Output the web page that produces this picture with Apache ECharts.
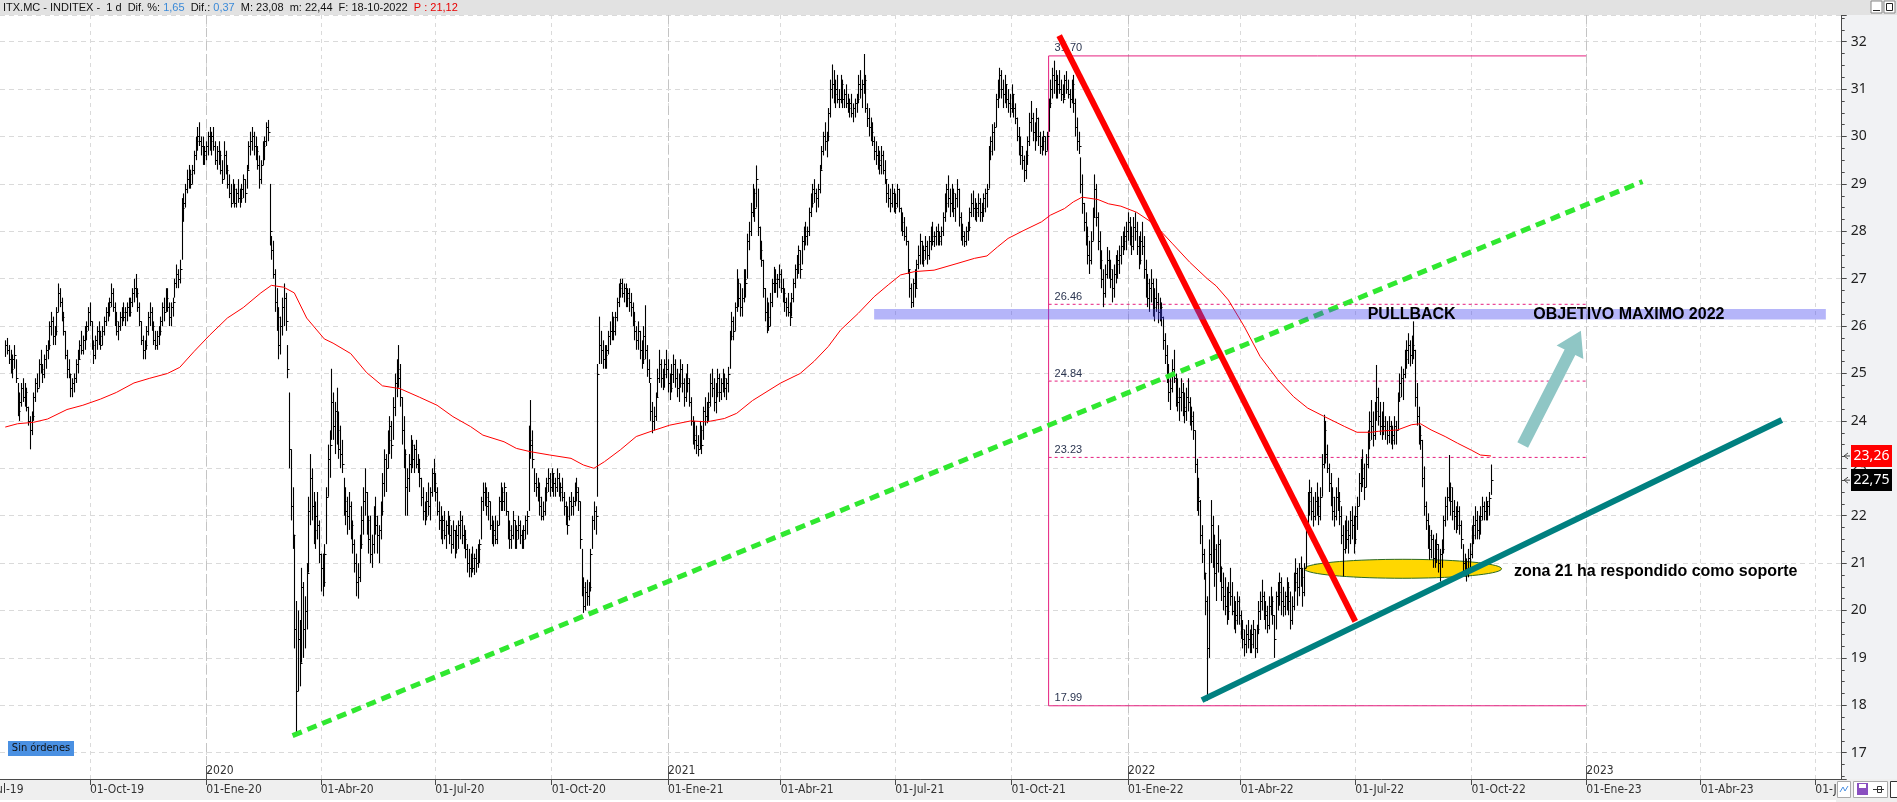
<!DOCTYPE html>
<html><head><meta charset="utf-8">
<script src="https://cdn.jsdelivr.net/npm/echarts@6/dist/echarts.min.js"></script>
<style>html,body{margin:0;padding:0;background:#fff;overflow:hidden}#c{width:1897px;height:802px}</style>
</head><body><div id="c"></div>
<script>
// ---------------- DATA ----------------
const monthNames = ['Ene','Feb','Mar','Abr','May','Jun','Jul','Ago','Sep','Oct','Nov','Dic'];
const axisStart = '2019-07-01';
const axisEnd = '2023-07-24';
const refDate = '2019-07-22';      // first visible weekday; day 0 for the [day, value] samples below
const priceStart = '2019-07-25';   // first bar of hlc
const yTickValues = [17,18,19,20,21,22,23,24,25,26,27,28,29,30,31,32];
// daily bars [high, low, close], one per weekday from priceStart
const hlc = [
[25.7,25.35,25.6],[25.75,25.4,25.5],
[25.6,25.2,25.3],[25.5,25.0,25.1],[25.4,24.9,25.3],[25.6,25.1,25.4],[25.3,24.8,24.9],
[24.8,24.1,24.2],[24.6,24.0,24.4],[24.8,24.3,24.7],[24.9,24.4,24.5],[24.8,24.3,24.6],
[24.7,24.2,24.3],[24.3,23.9,24.0],[24.1,23.4,23.8],[24.2,23.7,24.1],[24.6,24.0,24.5],
[24.9,24.4,24.8],[25.0,24.6,24.7],[25.3,24.7,25.2],[25.5,25.0,25.1],[25.2,24.8,25.0],
[25.4,24.9,25.3],[25.6,25.1,25.5],[25.7,25.3,25.6],[26.1,25.5,26.0],[26.3,25.8,26.1],
[26.2,25.6,25.8],[26.0,25.6,25.9],[26.4,25.8,26.3],[26.9,26.3,26.7],[26.8,26.4,26.5],
[26.6,26.1,26.2],[26.3,25.8,25.9],[25.9,25.3,25.4],[25.5,24.9,25.1],[25.3,24.9,25.0],
[25.0,24.5,24.7],[24.9,24.5,24.8],[25.0,24.6,24.9],[25.3,24.8,25.2],[25.5,25.0,25.3],
[25.7,25.3,25.6],[25.9,25.4,25.5],[25.8,25.4,25.7],[26.0,25.5,25.9],[26.1,25.7,26.0],
[26.4,25.9,26.3],[26.5,26.0,26.1],[26.1,25.5,25.6],[25.7,25.2,25.4],[25.8,25.3,25.7],
[26.0,25.5,25.9],[26.1,25.6,25.8],[25.9,25.5,25.6],[26.0,25.6,25.9],[26.2,25.8,26.1],
[26.4,26.0,26.3],[26.5,26.1,26.4],[26.6,26.2,26.5],[26.9,26.4,26.7],[26.8,26.3,26.4],
[26.5,26.0,26.1],[26.3,25.8,25.9],[26.1,25.7,26.0],[26.3,25.9,26.2],[26.4,26.0,26.3],
[26.5,26.1,26.2],[26.4,26.0,26.3],[26.5,26.1,26.4],[26.6,26.2,26.3],[26.6,26.2,26.5],
[26.8,26.4,26.7],[27.0,26.5,26.8],[27.1,26.6,26.7],[26.8,26.3,26.4],[26.5,26.0,26.1],
[26.1,25.6,25.7],[25.8,25.3,25.5],[25.7,25.3,25.6],[26.0,25.5,25.9],[26.3,25.8,26.2],
[26.5,26.0,26.3],[26.4,25.9,26.0],[26.1,25.6,25.7],[25.9,25.5,25.6],[25.9,25.5,25.8],
[26.0,25.6,25.9],[26.2,25.8,26.1],[26.5,26.0,26.4],[26.6,26.1,26.3],[26.8,26.3,26.6],
[26.8,26.3,26.4],[26.5,26.0,26.2],[26.5,26.0,26.4],[26.6,26.2,26.5],[27.0,26.6,26.9],
[27.3,26.8,27.1],[27.2,26.8,27.0],[27.4,26.9,27.2],[28.7,27.4,28.5],[28.8,28.2,28.6],
[29.0,28.5,28.9],[29.3,28.8,29.1],[29.4,28.9,29.2],[29.3,28.9,29.0],[29.4,29.0,29.3],
[29.7,29.2,29.6],[30.0,29.5,29.9],[30.2,29.7,30.0],[30.3,29.8,29.9],[30.0,29.6,29.8],
[30.0,29.4,29.6],[29.8,29.4,29.7],[29.9,29.5,29.8],[30.1,29.6,30.0],[30.2,29.7,29.9],
[30.1,29.6,30.0],[30.2,29.7,29.8],[29.9,29.4,29.5],[29.8,29.3,29.7],[29.9,29.4,29.6],
[29.7,29.2,29.3],[29.5,29.0,29.1],[29.9,29.1,29.6],[29.7,29.2,29.3],[29.4,28.9,29.0],
[29.2,28.7,28.8],[29.0,28.5,28.6],[29.1,28.6,28.9],[29.0,28.5,28.6],[28.9,28.5,28.8],
[29.1,28.6,28.7],[28.9,28.5,28.7],[29.0,28.6,28.9],[29.2,28.7,29.1],[29.1,28.6,28.8],
[29.4,28.9,29.3],[29.9,29.3,29.8],[30.1,29.6,29.9],[30.2,29.7,30.0],[30.1,29.6,29.8],
[30.0,29.5,29.7],[29.8,29.3,29.4],[29.6,28.9,29.1],[29.5,29.0,29.4],[29.9,29.4,29.8],
[30.0,29.5,29.9],[30.3,29.8,30.2],[30.35,29.9,30.1],[29.0,27.7,28.0],[27.9,27.4,27.6],
[27.8,27.0,27.1],[27.2,26.3,26.5],[26.8,25.9,26.2],[26.4,25.3,25.6],[26.2,25.4,26.0],
[26.6,25.8,26.4],[26.9,26.0,26.6],[26.7,25.9,26.1],[25.6,24.9,25.1],[24.6,23.0,23.4],
[23.4,21.9,22.2],[22.6,21.3,21.6],[21.6,19.2,19.6],[20.2,17.4,18.3],[20.0,18.3,19.4],
[19.8,18.4,18.9],[20.9,18.9,20.5],[20.6,19.0,19.6],[20.3,19.2,20.0],[21.0,19.6,20.8],
[22.4,20.8,22.1],[23.3,21.8,22.8],[23.0,21.9,22.2],[22.5,21.4,21.7],[22.3,21.3,22.0],
[22.5,21.5,21.8],[21.9,21.0,21.2],[21.2,20.4,20.9],[21.2,20.3,20.6],[21.4,20.5,21.2],
[22.6,21.4,22.4],[23.5,22.4,23.2],[23.8,22.8,23.5],[25.1,23.6,24.4],[24.6,23.6,23.9],
[24.4,23.3,24.2],[24.7,23.5,23.8],[24.2,23.2,23.4],[23.9,23.0,23.3],[23.6,22.9,23.1],
[22.8,22.0,22.3],[22.6,21.8,22.1],[22.4,21.6,22.0],[22.5,21.7,22.2],[22.3,21.5,21.8],
[21.9,21.2,21.4],[21.5,20.8,21.0],[21.2,20.3,20.6],[21.0,20.25,20.7],[21.6,20.6,21.4],
[22.2,21.3,21.9],[22.6,21.6,22.3],[23.0,22.0,22.5],[22.5,21.6,21.9],[22.0,21.2,21.5],
[22.0,21.0,21.2],[21.6,20.9,21.4],[22.2,21.2,22.0],[22.4,21.6,21.8],[22.0,21.2,21.6],
[21.8,21.0,21.7],[22.3,21.5,22.1],[22.9,22.0,22.7],[23.4,22.4,23.2],[23.3,22.5,23.0],
[23.8,23.0,23.6],[24.1,23.3,23.9],[24.0,23.2,23.5],[24.5,23.6,24.3],[25.0,24.1,24.8],
[25.3,24.5,25.1],[25.6,24.7,24.9],[25.2,24.3,24.5],[24.5,23.5,23.8],[24.1,23.0,23.3],
[23.4,22.0,22.6],[23.0,22.0,22.8],[23.3,22.5,23.1],[23.7,22.9,23.5],[23.6,23.0,23.2],
[23.5,22.9,23.4],[23.6,23.0,23.1],[23.3,22.9,23.0],[23.2,22.6,22.8],[22.8,22.2,22.4],
[22.6,21.9,22.1],[22.3,21.8,22.0],[22.5,21.9,22.3],[22.7,22.0,22.2],[22.6,21.9,22.5],
[23.0,22.4,22.9],[23.2,22.5,22.7],[22.9,22.3,22.5],[22.6,22.0,22.1],[22.3,21.7,21.9],
[22.2,21.5,21.7],[22.0,21.4,21.9],[22.1,21.5,21.6],[21.9,21.3,21.8],[22.1,21.6,21.9],
[22.0,21.4,21.6],[21.8,21.2,21.4],[21.9,21.3,21.7],[21.7,21.1,21.3],[21.8,21.2,21.6],
[21.9,21.3,21.8],[22.1,21.5,21.9],[22.0,21.4,21.6],[21.8,21.3,21.5],[21.7,21.1,21.3],
[21.4,20.8,21.0],[21.3,20.7,20.9],[21.2,20.7,21.1],[21.35,20.8,20.9],[21.2,20.75,21.1],
[21.3,20.8,21.0],[21.4,20.9,21.3],[21.5,21.0,21.4],[22.4,21.5,22.3],[22.7,22.1,22.5],
[22.7,22.2,22.4],[22.6,22.0,22.2],[22.5,21.9,22.3],[22.3,21.7,21.8],[22.0,21.4,21.6],
[21.9,21.35,21.7],[22.0,21.4,21.5],[21.9,21.4,21.8],[22.4,21.8,22.3],[22.7,22.1,22.5],
[22.6,22.1,22.3],[22.7,22.1,22.6],[22.5,22.0,22.1],[22.1,21.5,21.7],[21.9,21.3,21.5],
[21.8,21.3,21.6],[22.1,21.5,21.9],[21.9,21.3,21.5],[21.8,21.3,21.7],[22.0,21.5,21.8],
[21.9,21.4,21.6],[21.7,21.3,21.5],[21.8,21.3,21.7],[22.0,21.5,21.9],[22.1,21.6,22.0],
[23.9,22.1,23.6],[24.44,23.2,23.5],[23.8,23.0,23.2],[23.0,22.5,22.7],[22.9,22.4,22.6],
[22.8,22.3,22.4],[22.7,22.0,22.2],[22.4,21.9,22.0],[22.3,21.9,22.1],[22.6,22.0,22.5],
[22.8,22.3,22.7],[23.0,22.5,22.8],[22.9,22.4,22.6],[23.0,22.5,22.9],[22.9,22.4,22.7],
[22.8,22.4,22.6],[23.0,22.5,22.8],[22.9,22.4,22.5],[22.7,22.3,22.6],[22.8,22.3,22.4],
[22.5,22.0,22.2],[22.3,21.8,22.0],[22.2,21.6,21.8],[22.4,21.9,22.3],[22.5,22.0,22.2],
[22.4,22.0,22.3],[22.7,22.2,22.6],[22.8,22.3,22.5],[22.6,22.1,22.3],[22.3,21.3,21.5],
[21.3,20.3,20.5],[20.7,19.95,20.1],[20.6,20.0,20.4],[20.65,20.1,20.3],[20.6,20.1,20.5],
[21.3,20.4,21.2],[22.0,21.3,21.9],[22.3,21.7,22.1],[22.2,21.6,22.0],[25.2,22.4,25.0],
[26.2,25.2,25.6],[25.9,25.2,25.5],[25.7,25.1,25.3],[25.6,25.1,25.4],[25.6,25.1,25.5],
[25.9,25.4,25.8],[26.1,25.6,25.9],[26.3,25.7,26.2],[26.2,25.7,25.9],[26.3,25.8,26.2],
[26.6,26.1,26.5],[26.9,26.4,26.8],[27.0,26.6,26.9],[27.0,26.6,26.7],[26.9,26.5,26.8],
[26.9,26.4,26.6],[26.8,26.4,26.7],[26.8,26.3,26.5],[26.7,26.2,26.4],[26.5,26.0,26.1],
[26.3,25.7,25.9],[26.0,25.5,25.7],[26.1,25.5,25.9],[25.9,25.3,25.5],[25.7,25.1,25.3],
[26.0,25.2,25.8],[26.44,25.3,25.5],[25.6,24.93,25.1],[25.3,24.8,24.9],[24.8,24.0,24.2],
[24.4,23.74,24.0],[24.3,23.8,24.1],[24.6,24.0,24.5],[25.1,24.5,24.9],[25.5,24.8,25.2],
[25.3,24.7,24.9],[25.1,24.65,25.0],[25.3,24.7,25.2],[25.5,24.9,25.1],[25.3,24.6,24.8],
[25.0,24.44,24.7],[25.2,24.6,25.0],[25.4,24.8,25.2],[25.3,24.7,24.9],[25.1,24.5,24.7],
[25.0,24.4,24.8],[25.3,24.7,25.1],[25.2,24.6,24.8],[24.9,24.3,24.5],[25.0,24.4,24.9],
[25.2,24.6,24.8],[24.9,24.3,24.4],[24.5,23.9,24.0],[24.1,23.5,23.7],[24.0,23.4,23.6],
[23.9,23.3,23.5],[23.7,23.25,23.4],[24.0,23.4,23.8],[23.9,23.3,23.5],[24.3,23.6,24.2],
[24.5,23.9,24.1],[24.4,23.95,24.3],[24.6,24.0,24.4],[25.0,24.3,24.8],[25.1,24.5,24.7],
[24.9,24.2,24.4],[24.8,24.16,24.6],[25.1,24.5,24.9],[25.0,24.4,24.6],[24.9,24.44,24.8],
[25.1,24.6,24.9],[25.0,24.5,24.7],[24.9,24.44,24.8],[25.14,24.6,25.0],[25.9,25.1,25.8],
[26.3,25.7,26.1],[26.2,25.7,25.9],[26.5,25.9,26.4],[27.2,26.3,26.9],[27.0,26.4,26.6],
[26.9,26.2,26.4],[26.8,26.2,26.6],[27.2,26.5,27.0],[27.2,26.6,26.9],[27.95,27.0,27.8],
[28.2,27.6,28.0],[28.6,27.9,28.4],[29.0,28.3,28.8],[28.9,28.2,28.5],[29.39,28.5,29.1],
[28.9,27.9,28.1],[28.1,27.4,27.6],[27.8,27.25,27.4],[27.4,26.6,26.8],[26.8,26.1,26.3],
[26.6,25.85,26.2],[26.5,25.9,26.0],[26.7,26.0,26.5],[27.0,26.4,26.9],[27.25,26.7,27.0],
[27.2,26.7,26.9],[27.1,26.6,27.0],[27.3,26.8,27.1],[27.2,26.7,26.8],[27.0,26.5,26.7],
[26.8,26.3,26.5],[26.6,26.2,26.4],[26.7,26.2,26.3],[26.5,26.0,26.2],[26.7,26.2,26.6],
[27.0,26.5,26.9],[27.3,26.8,27.2],[27.5,27.0,27.3],[27.7,27.1,27.6],[27.6,27.0,27.2],
[27.9,27.3,27.8],[28.1,27.6,28.0],[28.2,27.7,27.9],[28.1,27.7,28.0],[28.5,27.9,28.4],
[28.8,28.3,28.6],[29.0,28.5,28.9],[29.1,28.6,28.8],[28.9,28.4,28.7],[29.0,28.5,28.9],
[29.4,28.8,29.3],[29.8,29.3,29.7],[30.1,29.6,30.0],[30.3,29.7,29.9],[30.1,29.56,30.0],
[30.6,29.9,30.5],[31.2,30.4,31.0],[31.52,30.8,31.1],[31.4,30.7,30.9],[31.2,30.6,31.0],
[31.3,30.7,30.8],[31.0,30.6,30.8],[31.3,30.7,31.1],[31.2,30.6,30.8],[31.0,30.6,30.9],
[31.1,30.6,30.7],[30.9,30.5,30.6],[30.8,30.4,30.7],[30.9,30.4,30.5],[30.7,30.3,30.6],
[30.8,30.4,30.7],[30.9,30.5,30.8],[31.3,30.7,31.1],[31.4,30.8,31.0],[31.2,30.6,31.1],
[31.74,30.9,31.2],[31.3,30.5,30.6],[30.7,30.2,30.4],[30.6,30.0,30.2],[30.4,29.9,30.1],
[30.3,29.8,29.9],[30.0,29.5,29.7],[29.9,29.4,29.6],[29.8,29.3,29.5],[29.7,29.2,29.4],
[29.8,29.2,29.6],[29.7,29.2,29.3],[29.5,29.0,29.1],[29.1,28.6,28.8],[29.0,28.5,28.7],
[28.9,28.4,28.6],[29.0,28.5,28.8],[28.9,28.4,28.5],[28.8,28.37,28.6],[29.0,28.5,28.9],
[28.9,28.4,28.5],[28.5,28.0,28.2],[28.4,27.9,28.0],[28.3,27.8,27.9],[28.1,27.7,27.8],
[27.8,27.1,27.2],[27.2,26.6,26.8],[26.9,26.38,26.5],[27.0,26.4,26.9],[27.2,26.6,26.8],
[27.4,26.8,27.3],[27.7,27.2,27.5],[27.95,27.3,27.8],[27.8,27.3,27.4],[27.7,27.25,27.6],
[27.9,27.4,27.7],[27.8,27.3,27.5],[27.9,27.4,27.8],[28.1,27.6,27.9],[28.2,27.7,27.8],
[28.0,27.67,27.9],[28.1,27.7,28.0],[28.16,27.7,27.8],[28.0,27.7,27.9],[28.1,27.7,28.0],
[28.4,27.9,28.3],[28.8,28.2,28.6],[29.0,28.4,28.9],[29.18,28.5,28.7],[28.9,28.3,28.6],
[29.0,28.4,28.8],[28.9,28.3,28.5],[28.8,28.2,28.7],[29.1,28.5,28.9],[28.9,28.1,28.3],
[28.4,27.8,28.0],[28.16,27.7,27.9],[28.0,27.67,27.8],[28.1,27.7,28.0],[28.2,27.8,28.1],
[28.5,28.0,28.4],[28.8,28.3,28.6],[28.86,28.3,28.5],[28.7,28.23,28.4],[28.6,28.2,28.5],
[28.8,28.3,28.6],[28.7,28.2,28.4],[28.6,28.2,28.5],[28.8,28.3,28.7],[28.9,28.4,28.8],
[29.0,28.5,28.9],[29.8,28.9,29.7],[30.0,29.5,29.9],[30.26,29.6,30.1],[30.3,29.7,30.2],
[30.9,30.2,30.8],[31.2,30.6,31.0],[31.45,30.8,31.3],[31.4,30.8,31.0],[31.2,30.6,30.9],
[31.3,30.7,31.1],[31.1,30.6,30.8],[31.0,30.5,30.7],[30.9,30.4,30.6],[31.1,30.5,30.9],
[30.9,30.4,30.6],[30.7,30.26,30.4],[30.4,29.9,30.0],[30.2,29.6,29.8],[30.0,29.4,29.6],
[29.8,29.3,29.5],[29.6,29.04,29.3],[29.7,29.1,29.6],[30.0,29.4,29.9],[30.5,29.8,30.3],
[30.75,30.1,30.4],[30.5,29.9,30.1],[30.3,29.7,30.0],[30.6,29.9,30.4],[30.4,29.8,30.0],
[30.1,29.63,29.8],[30.0,29.6,29.9],[30.12,29.7,30.0],[30.0,29.6,29.7],[30.1,29.7,30.0],
[30.8,30.1,30.7],[31.2,30.6,31.0],[31.45,30.8,31.3],[31.6,30.9,31.2],[31.4,30.8,31.0],
[31.3,30.8,31.1],[31.4,30.9,31.0],[31.2,30.75,30.9],[31.1,30.7,30.8],[31.3,30.8,31.2],
[31.38,30.9,31.0],[31.2,30.8,30.9],[31.0,30.6,30.8],[31.2,30.7,31.1],[31.3,30.5,30.7],
[30.8,30.0,30.2],[30.4,29.7,29.9],[30.1,29.63,29.8],[29.56,28.8,29.0],[29.2,28.37,28.6],
[28.6,28.0,28.2],[28.4,27.7,27.9],[28.1,27.3,27.5],[27.8,27.1,27.4],[28.0,27.3,27.8],
[28.5,27.8,28.3],[29.2,28.3,28.9],[29.0,28.1,28.3],[28.4,27.6,27.8],[28.0,27.2,27.4],
[27.6,26.8,27.0],[27.2,26.4,26.7],[27.3,26.6,27.1],[27.67,27.0,27.4],[27.6,27.0,27.2],
[27.4,26.8,27.0],[27.2,26.5,26.8],[27.3,26.6,27.1],[27.5,26.9,27.3],[27.6,27.0,27.4],
[27.7,27.1,27.5],[27.9,27.3,27.7],[28.0,27.5,27.8],[28.1,27.6,27.9],[28.2,27.6,28.0],
[28.4,27.8,28.2],[28.3,27.7,27.9],[28.1,27.5,27.7],[28.3,27.6,28.1],[28.4,27.8,28.0],
[28.2,27.5,27.7],[27.9,27.2,27.4],[28.0,27.3,27.8],[28.2,27.5,27.7],[27.9,27.0,27.2],
[27.4,26.6,26.9],[27.1,26.4,26.6],[27.0,26.3,26.8],[27.2,26.5,26.9],[27.0,26.2,26.4],
[26.8,26.1,26.6],[27.0,26.3,26.5],[26.7,26.06,26.3],[26.6,26.1,26.4],[26.5,26.0,26.2],
[26.2,25.5,25.7],[25.85,25.2,25.4],[25.6,24.8,25.0],[25.2,24.4,24.6],[24.9,24.23,24.7],
[25.3,24.6,25.1],[25.5,24.8,24.9],[25.0,24.3,24.5],[24.9,24.2,24.4],[24.7,24.0,24.5],
[24.9,24.2,24.6],[24.8,24.1,24.3],[24.6,23.95,24.2],[24.7,24.0,24.5],[24.9,24.2,24.4],
[24.5,23.9,24.1],[24.3,23.8,24.0],[24.2,23.6,23.8],[23.8,22.9,23.1],[23.2,22.1,22.4],
[22.8,22.0,22.3],[22.33,21.4,21.6],[21.8,21.0,21.2],[21.3,20.65,20.8],[20.8,19.9,20.2],
[20.3,18.1,19.2],[21.5,19.0,21.2],[22.33,21.0,21.8],[22.0,20.9,21.3],[21.6,20.5,20.8],
[21.4,20.2,21.0],[21.8,20.8,21.4],[21.5,20.6,20.9],[20.93,20.2,20.5],[20.8,20.0,20.3],
[20.7,19.9,20.1],[20.5,19.7,20.0],[20.6,19.8,20.4],[20.9,20.1,20.3],[20.6,19.9,20.0],
[20.3,19.6,19.8],[20.2,19.52,19.9],[20.4,19.7,20.2],[20.3,19.7,19.9],[20.0,19.4,19.6],
[19.8,19.2,19.4],[19.6,19.03,19.3],[19.7,19.1,19.5],[19.8,19.2,19.4],[19.6,19.1,19.3],
[19.7,19.1,19.5],[19.8,19.2,19.6],[19.6,19.0,19.2],[19.7,19.1,19.6],[20.2,19.5,20.0],
[20.4,19.8,20.2],[20.65,20.0,20.3],[20.4,19.8,20.0],[20.2,19.6,19.9],[20.1,19.52,19.7],
[20.3,19.6,20.1],[20.5,19.9,20.2],[20.3,19.7,19.9],[19.9,19.0,19.4],[20.4,19.6,20.3],
[20.6,20.0,20.4],[20.8,20.1,20.6],[20.7,19.9,20.2],[20.5,19.87,20.1],[20.4,19.9,20.3],
[20.7,20.0,20.5],[20.6,19.9,20.2],[20.4,19.6,19.8],[20.3,19.7,20.1],[20.8,20.0,20.6],
[21.1,20.4,20.8],[20.9,20.1,20.5],[21.0,20.3,20.9],[21.14,20.5,20.7],[20.9,20.08,20.4],
[21.0,20.3,20.9],[21.9,20.9,21.8],[22.5,21.8,22.3],[22.76,22.0,22.5],[22.6,21.9,22.1],
[22.4,21.77,22.0],[22.5,21.9,22.3],[22.7,22.0,22.2],[22.4,21.8,22.0],[22.6,21.9,22.4],
[23.3,22.4,23.1],[24.13,23.0,23.8],[24.0,23.1,23.3],[23.5,22.9,23.0],[23.1,22.5,22.7],
[22.9,22.2,22.4],[22.6,21.9,22.1],[22.4,21.77,22.0],[22.6,21.9,22.4],[22.8,22.1,22.3],
[22.5,21.8,22.0],[22.2,21.4,21.6],[21.8,20.72,21.3],[21.9,21.2,21.7],[22.0,21.3,21.5],
[21.9,21.2,21.6],[22.1,21.4,21.9],[22.2,21.5,21.8],[22.0,21.2,21.5],[22.2,21.4,22.0],
[22.4,21.7,22.2],[22.9,22.2,22.7],[23.2,22.5,23.0],[23.4,22.6,22.8],[23.1,22.33,22.6],
[23.3,22.6,23.1],[23.8,23.0,23.6],[24.2,23.4,24.0],[24.44,23.6,23.9],[24.2,23.46,23.7],
[24.4,23.6,24.2],[25.18,24.0,24.5],[24.7,23.9,24.1],[24.4,23.7,23.9],[24.2,23.6,24.0],
[24.4,23.7,23.9],[24.1,23.6,23.8],[24.0,23.5,23.7],[24.1,23.53,23.9],[24.0,23.5,23.6],
[23.9,23.4,23.7],[24.1,23.5,23.9],[24.0,23.5,23.8],[24.6,23.8,24.5],[25.0,24.4,24.8],
[25.15,24.5,24.9],[25.1,24.44,25.0],[25.5,24.9,25.3],[25.7,25.1,25.5],[25.85,25.2,25.6],
[25.7,25.15,25.4],[25.8,25.2,25.6],[26.1,25.3,25.5],[25.5,24.3,24.5],[24.8,23.9,24.1],
[24.3,23.5,23.7],[23.9,23.39,23.6],[23.6,22.6,22.8],[23.04,22.0,22.2],[22.3,21.7,21.9],
[22.05,21.3,21.6],[21.8,21.07,21.3],[21.7,21.1,21.5],[21.6,20.9,21.1],[21.5,20.9,21.3],
[21.63,21.0,21.4],[21.4,20.8,21.0],[21.3,20.61,21.2],[21.5,20.9,21.3],[22.0,21.2,21.9],
[22.4,21.77,22.2],[22.6,21.9,22.4],[23.28,22.3,22.6],[22.7,22.0,22.3],[22.6,21.9,22.1],
[22.33,21.7,22.0],[22.2,21.63,21.8],[22.3,21.7,22.1],[22.2,21.6,21.8],[21.9,21.3,21.5],
[21.4,20.8,21.0],[21.2,20.72,20.9],[21.1,20.61,20.8],[21.3,20.7,21.1],[21.42,20.8,21.2],
[21.8,21.1,21.6],[22.0,21.4,21.8],[22.2,21.5,21.9],[22.1,21.5,21.7],[22.0,21.5,21.9],
[22.2,21.6,22.0],[22.4,21.9,22.2],[22.3,21.9,22.1],[22.4,21.9,22.3],[22.3,21.9,22.2],
[22.5,22.0,22.38],[23.08,22.44,22.75]
];
// moving average: [weekday number from refDate, value]
const maPoints = [
[3,23.87],[10,23.94],[19,23.97],[27,24.04],[38,24.24],[47,24.33],[57,24.46],[66,24.60],[76,24.80],[85,24.90],
[95,25.00],[102,25.13],[110,25.46],[119,25.81],[129,26.17],[138,26.39],[148,26.70],[154,26.86],[161,26.82],[167,26.70],
[174,26.17],[184,25.73],[189,25.64],[199,25.42],[208,25.02],[217,24.74],[227,24.68],[238,24.50],[248,24.33],[257,24.09],
[267,23.88],[274,23.70],[286,23.56],[293,23.42],[301,23.35],[312,23.28],[324,23.21],[331,23.07],[337,23.00],[343,23.14],
[352,23.39],[361,23.67],[371,23.80],[380,23.91],[392,24.00],[401,23.98],[411,24.05],[418,24.16],[427,24.43],[443,24.80],
[454,25.00],[462,25.26],[470,25.57],[477,25.92],[487,26.27],[496,26.62],[504,26.87],[511,27.08],[519,27.15],[530,27.18],
[543,27.32],[553,27.43],[560,27.48],[566,27.67],[572,27.85],[581,28.02],[591,28.20],[596,28.34],[604,28.48],[609,28.62],
[614,28.72],[623,28.67],[629,28.58],[636,28.53],[645,28.40],[655,28.15],[665,27.75],[675,27.35],[685,27.00],[690,26.85],
[697,26.55],[706,25.99],[715,25.36],[725,24.87],[734,24.51],[742,24.27],[751,24.10],[763,23.88],[770,23.76],[778,23.76],
[782,23.78],[793,23.81],[801,23.92],[806,23.94],[812,23.81],[820,23.67],[827,23.53],[835,23.38],[840,23.28],[846,23.26]
];
// drawn studies, in [weekday number from refDate, price]
const fibLevels = [31.70, 26.46, 24.84, 23.23, 17.99];
const fibDays = [595, 900];
const redTrend = [[601, 32.13], [769, 19.77]];
const tealTrend = [[682.3, 18.11], [1011, 24.02]];
const greenTrend = [[166.2, 17.36], [932.3, 29.05]];
const bandDays = [496, 1036];
const bandPrices = [26.14, 26.36];
const zoneCenter = [796, 20.88];
const zoneHalf = [55.6, 0.2];
const arrowPts = [[863.6, 23.49], [896.6, 25.9]];
const notes = [
  ['PULLBACK', 800.6, 26.25, 'center'],
  ['OBJETIVO MAXIMO 2022', 869.9, 26.24, 'left'],
  ['zona 21 ha respondido como soporte', 858.5, 20.83, 'left']
];
const headerName = 'ITX.MC - INDITEX -  1 d';
const headerCursor = 'P : 21,12';
const headerDate = '18-10-2022';

// ---------------- BUILD ----------------
function parseD(s){const a=s.split('-').map(Number);return new Date(Date.UTC(a[0],a[1]-1,a[2]));}
const cats=[], cm=[], cy=[];
for(let t=parseD(axisStart).getTime(); t<=parseD(axisEnd).getTime(); t+=86400000){
  const d=new Date(t), wd=d.getUTCDay(); if(wd===0||wd===6) continue;
  cats.push(d.toISOString().slice(0,10)); cm.push(d.getUTCMonth()); cy.push(d.getUTCFullYear());
}
const N=cats.length, base=cats.indexOf(refDate), p0=cats.indexOf(priceStart);
const isQ=i=> (i>0 && cm[i]!==cm[i-1] && cm[i]%3===0);
const isY=i=> (i>0 && cy[i]!==cy[i-1]);
const W=1897,H=802, axisX=1841.7, gTop=15, gBottom=23;
const yMin = 32 - (779-41.7)/47.4, yMax = 32 + (41.7-15)/47.4;
const fmt = v=> v.toFixed(2).replace('.',',');
const last=hlc[hlc.length-1], prev=hlc[hlc.length-2];
const maLast = maPoints[maPoints.length-1][1];
const labelOf = i=> '01-'+monthNames[cm[i]]+'-'+String(cy[i]).slice(2);

const AX_FONT="'Liberation Sans Narrow','DejaVu Sans Condensed','Liberation Sans',sans-serif";
const LF="'Liberation Sans',Arial,sans-serif";
const pt = a=>[base+a[0], a[1]];

const series = [];
// yellow support zone (under bars)
series.push({type:'custom', z:1, silent:true, clip:false, data:[[base+zoneCenter[0], zoneCenter[1]]],
  renderItem:(p,api)=>{
    const c=api.coord([base+zoneCenter[0], zoneCenter[1]]);
    const e=api.coord([base+zoneCenter[0]+zoneHalf[0], zoneCenter[1]+zoneHalf[1]]);
    const rx=e[0]-c[0], ry=c[1]-e[1]; const pts=[];
    for(let k=0;k<72;k++){const a=k/72*Math.PI*2; pts.push([c[0]+rx*Math.cos(a), c[1]+ry*Math.sin(a)]);}
    return {type:'polygon', shape:{points:pts}, style:{fill:'#ffd700', stroke:'#2e6b22', lineWidth:1}};
  }});
// fibonacci lines
fibLevels.forEach((lv,k)=>{
  const dashed = k>0 && k<fibLevels.length-1;
  series.push({type:'line', z:2, silent:true, symbol:'none', data:[[base+fibDays[0], lv],[base+fibDays[1], lv]],
    lineStyle:{color:'#e6207f', width:1, type: dashed?[3,3]:'solid'}});
});
series.push({type:'line', z:2, silent:true, symbol:'none', data:[[base+fibDays[0], fibLevels[0]],[base+fibDays[0], fibLevels[fibLevels.length-1]]],
  lineStyle:{color:'#e6207f', width:1}});
series.push({type:'custom', z:2, silent:true, clip:false, data: fibLevels.map(lv=>[base+fibDays[0], lv]),
  renderItem:(p,api)=>{
    const lv=fibLevels[p.dataIndex]; const c=api.coord([base+fibDays[0], lv]);
    return {type:'text', x:c[0]+6, y:c[1]-2, style:{text:lv.toFixed(2), fill:'#2b3550', font:'11px '+LF, align:'left', verticalAlign:'bottom'}};
  }});
// price bars
series.push({type:'custom', name:'ITX', z:3, silent:true, clip:true,
  data: hlc.map((d,i)=>[p0+i, d[0], d[1], d[2]]),
  encode:{x:0, y:[1,2,3]},
  renderItem:(p,api)=>{
    const x=api.value(0);
    const h=api.coord([x, api.value(1)]), l=api.coord([x, api.value(2)]), c=api.coord([x, api.value(3)]);
    const px=Math.round(h[0])+0.5, cy2=Math.round(c[1])+0.5;
    return {type:'group', children:[
      {type:'line', shape:{x1:px, y1:h[1], x2:px, y2:l[1]}, style:{stroke:'#000', lineWidth:1.1}},
      {type:'line', shape:{x1:px, y1:cy2, x2:px+2, y2:cy2}, style:{stroke:'#000', lineWidth:1}}
    ]};
  }});
// moving average
series.push({type:'line', z:4, silent:true, symbol:'none', data: maPoints.map(pt), lineStyle:{color:'#ff0000', width:1}});
// trend lines
series.push({type:'line', z:5, silent:true, symbol:'none', data: greenTrend.map(pt), lineStyle:{color:'#30e830', width:5, type:[10,6], cap:'butt'}});
series.push({type:'line', z:6, silent:true, symbol:'none', data: redTrend.map(pt), lineStyle:{color:'#ff0000', width:6}});
series.push({type:'line', z:6, silent:true, symbol:'none', data: tealTrend.map(pt), lineStyle:{color:'#008080', width:6}});
// blue band
series.push({type:'custom', z:7, silent:true, clip:false, data:[[base+bandDays[0], bandPrices[1]]],
  renderItem:(p,api)=>{
    const a=api.coord([base+bandDays[0], bandPrices[1]]), b=api.coord([base+bandDays[1], bandPrices[0]]);
    return {type:'rect', shape:{x:a[0], y:a[1], width:b[0]-a[0], height:b[1]-a[1]}, style:{fill:'rgba(70,70,240,0.40)'}};
  }});
// arrow
series.push({type:'custom', z:8, silent:true, clip:false, data:[[base+arrowPts[0][0], arrowPts[0][1]]],
  renderItem:(p,api)=>{
    const T=api.coord(pt(arrowPts[0])), P=api.coord(pt(arrowPts[1]));
    const dx=P[0]-T[0], dy=P[1]-T[1], L=Math.hypot(dx,dy), ux=dx/L, uy=dy/L, nx=-uy, ny=ux;
    const sw=6, hw=15, hl=24, Hx=P[0]-ux*hl, Hy=P[1]-uy*hl;
    const pts=[[T[0]+nx*sw,T[1]+ny*sw],[Hx+nx*sw,Hy+ny*sw],[Hx+nx*hw,Hy+ny*hw],[P[0],P[1]],[Hx-nx*hw,Hy-ny*hw],[Hx-nx*sw,Hy-ny*sw],[T[0]-nx*sw,T[1]-ny*sw]];
    return {type:'polygon', shape:{points:pts}, style:{fill:'#8fc6c5'}};
  }});
// text notes
series.push({type:'custom', z:9, silent:true, clip:false, data: notes.map(n=>[base+n[1], n[2]]),
  renderItem:(p,api)=>{
    const n=notes[p.dataIndex]; const c=api.coord([base+n[1], n[2]]);
    return {type:'text', x:c[0], y:c[1], style:{text:n[0], fill:'#000', font:"bold 16px 'Liberation Sans', Arial, sans-serif", align:n[3], verticalAlign:'middle'}};
  }});

const xCommon = {type:'category', data:cats, boundaryGap:false, min:base, max:N-1};
const option = {
  animation:false,
  backgroundColor:'#ffffff',
  grid:{left:0, right:W-axisX, top:gTop, bottom:gBottom},
  xAxis:[Object.assign({}, xCommon, {
    axisLine:{show:true, lineStyle:{color:'#4a4a4a', width:1}},
    axisTick:{show:true, interval:isQ, length:6, lineStyle:{color:'#4a4a4a'}},
    axisLabel:{show:true, interval:isQ, align:'left', margin:5, fontSize:12, color:'#333', fontFamily:AX_FONT,
      formatter:(v)=>labelOf(cats.indexOf(v))},
    splitLine:{show:true, interval:isQ, lineStyle:{color:'#dadada', width:1, type:[4,4]}}
  }), Object.assign({}, xCommon, {
    position:'bottom',
    axisLine:{show:false},
    axisTick:{show:true, inside:true, interval:isY, length:13, lineStyle:{color:'#555'}},
    axisLabel:{show:true, inside:true, interval:isY, align:'left', verticalAlign:'bottom', margin:2, fontSize:12, color:'#333', fontFamily:AX_FONT,
      formatter:v=>v.slice(0,4)},
    splitLine:{show:true, interval:isY, lineStyle:{color:'#c4c4c4', width:1, type:[9,4]}}
  })],
  yAxis:{
    type:'value', position:'right', min:yMin, max:yMax, minInterval:1, maxInterval:1, splitNumber:16,
    axisLine:{show:true, lineStyle:{color:'#4a4a4a'}},
    axisTick:{show:true, length:5, lineStyle:{color:'#4a4a4a'}},
    minorTick:{show:true, splitNumber:4, length:3, lineStyle:{color:'#4a4a4a'}},
    axisLabel:{show:true, margin:9, fontSize:14, color:'#222', fontFamily:"'Noto Sans','Open Sans',sans-serif",
      formatter:v=> yTickValues.indexOf(Math.round(v*1000)/1000)>=0 ? String(Math.round(v)) : ''},
    splitLine:{show:true, lineStyle:{color:'#dadada', width:1, type:[5,4]}}
  },
  series
};
const chart = echarts.init(document.getElementById('c'), null, {renderer:'canvas', width:W, height:H});
chart.setOption(option);

const yMA = chart.convertToPixel({yAxisIndex:0}, maLast);
const yCl = chart.convertToPixel({yAxisIndex:0}, last[2]);
// the quarter label that falls left of the first visible day, placed through the axis scale
const xb0 = chart.convertToPixel({xAxisIndex:0}, base), xb1 = chart.convertToPixel({xAxisIndex:0}, base+1);
const xFirst = xb0 - base*(xb1-xb0);
const tag=(y,txt,bg)=>[
  {type:'rect', z:60, shape:{x:1851, y:Math.round(y)-11, width:41, height:22}, style:{fill:bg}},
  {type:'text', z:61, x:1871.5, y:Math.round(y), style:{text:txt, fill:'#fff', font:"14px 'Noto Sans',sans-serif", align:'center', verticalAlign:'middle'}},
  {type:'polyline', z:61, shape:{points:[[1848,y-3],[1844,y],[1848,y+3]]}, style:{stroke:'#444', fill:null, lineWidth:1}},
  {type:'line', z:61, shape:{x1:1844,y1:y,x2:1850,y2:y}, style:{stroke:'#444', lineWidth:1}}
];
const graphics = [
  {type:'rect', z:-10, shape:{x:1842, y:15, width:55, height:764}, style:{fill:'#f1f2f4'}},
  {type:'rect', z:-10, shape:{x:0, y:779, width:W, height:21}, style:{fill:'#efefef'}},
  {type:'text', z:5, x:xFirst+1, y:784, style:{text:labelOf(0), fill:'#333', font:'12px '+AX_FONT, align:'left', verticalAlign:'top'}},
  {type:'rect', z:50, shape:{x:0, y:0, width:W, height:15}, style:{fill:'#e2e2e2'}},
  {type:'text', z:51, x:3, y:8, style:{
    text:'{k|'+headerName+'  Dif. %: }{b|'+fmt((last[2]-prev[2])/prev[2]*100)+'}{k|  Dif.: }{b|'+fmt(last[2]-prev[2])+'}{k|  M: '+fmt(last[0])+'  m: '+fmt(last[1])+'  F: '+headerDate+'  }{r|'+headerCursor+'}',
    verticalAlign:'middle', align:'left',
    rich:{k:{fill:'#111', font:'11px '+LF}, b:{fill:'#3b8ad8', font:'11px '+LF}, r:{fill:'#e80000', font:'11px '+LF}}}},
  {type:'rect', z:52, shape:{x:1871, y:1, width:11, height:12}, style:{fill:'#fff', stroke:'#888', lineWidth:1}},
  {type:'line', z:53, shape:{x1:1873, y1:10.5, x2:1880, y2:10.5}, style:{stroke:'#222', lineWidth:1}},
  {type:'rect', z:52, shape:{x:1884, y:1, width:11, height:12}, style:{fill:'#fff', stroke:'#888', lineWidth:1}},
  {type:'rect', z:53, shape:{x:1886.5, y:3.5, width:6, height:7}, style:{fill:null, stroke:'#222', lineWidth:1}},
  {type:'rect', z:55, shape:{x:8, y:741, width:66, height:15}, style:{fill:'#4a90e2'}},
  {type:'text', z:56, x:41, y:748.5, style:{text:'Sin órdenes', fill:'#111', font:"11px "+AX_FONT, align:'center', verticalAlign:'middle'}},
  {type:'rect', z:55, shape:{x:1836, y:780, width:61, height:22}, style:{fill:'#efefef'}},
  {type:'rect', z:56, shape:{x:1837.5, y:781.5, width:13, height:16}, style:{fill:'#fff', stroke:'#aaa', lineWidth:1}},
  {type:'polyline', z:57, shape:{points:[[1840,792],[1843,787],[1845,791],[1848,786]]}, style:{stroke:'#4a90e2', fill:null, lineWidth:1}},
  {type:'rect', z:56, shape:{x:1853.5, y:781.5, width:34, height:16}, style:{fill:'#fff', stroke:'#aaa', lineWidth:1}},
  {type:'rect', z:57, shape:{x:1857, y:783, width:11, height:12}, style:{fill:'#8a4fc0'}},
  {type:'rect', z:58, shape:{x:1859, y:784, width:7, height:4}, style:{fill:'#fff'}},
  {type:'line', z:57, shape:{x1:1873, y1:789.5, x2:1884, y2:789.5}, style:{stroke:'#333', lineWidth:1}},
  {type:'rect', z:57, shape:{x:1877.5, y:786.5, width:4, height:6}, style:{fill:null, stroke:'#333', lineWidth:1}},
  {type:'rect', z:56, shape:{x:1890.5, y:781.5, width:8, height:16}, style:{fill:'#fff', stroke:'#333', lineWidth:1}}
].concat(tag(yMA, fmt(maLast), '#ff0000')).concat(tag(yCl, fmt(last[2]), '#000000'));
chart.setOption({graphic: graphics});
</script>
</body></html>
